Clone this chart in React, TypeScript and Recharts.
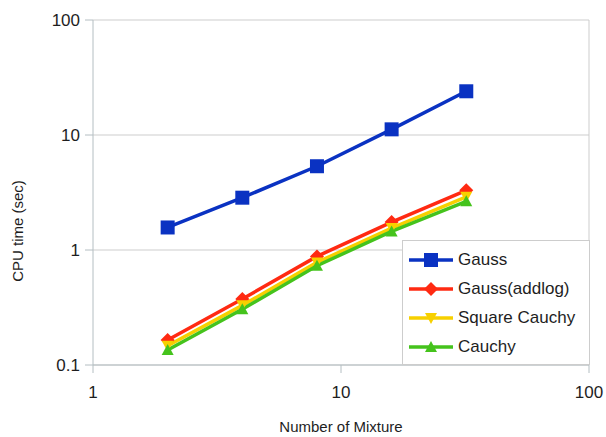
import React from "react";
import { LineChart, Line, XAxis, YAxis, CartesianGrid, ReferenceLine, Label } from "recharts";

const mixtures = [2, 4, 8, 16, 32];
const gaussTimes = [1.57, 2.85, 5.35, 11.2, 24];
const addlogTimes = [0.165, 0.375, 0.88, 1.75, 3.3];
const squareCauchyTimes = [0.147, 0.33, 0.78, 1.55, 2.9];
const cauchyTimes = [0.135, 0.305, 0.73, 1.45, 2.65];
const xTicks = [1, 10, 100];
const yTicks = [0.1, 1, 10, 100];

type Shape = "square" | "diamond" | "down" | "up";

const series: { key: string; name: string; color: string; shape: Shape }[] = [
    { key: "gauss", name: "Gauss", color: "#0a32c2", shape: "square" },
    { key: "addlog", name: "Gauss(addlog)", color: "#ff2a12", shape: "diamond" },
    { key: "square", name: "Square Cauchy", color: "#f7d000", shape: "down" },
    { key: "cauchy", name: "Cauchy", color: "#45c31c", shape: "up" },
];

const data = mixtures.map((x, i) => ({
    x,
    gauss: gaussTimes[i],
    addlog: addlogTimes[i],
    square: squareCauchyTimes[i],
    cauchy: cauchyTimes[i],
}));

const FONT = "'Liberation Sans', Arial, sans-serif";
const GRID = "#cdcdcd";
const AXIS = "#b4bec2";

const marker = (shape: Shape, color: string, cx: number, cy: number, key?: string) => {
    if (shape === "square") return <rect key={key} x={cx - 7} y={cy - 7} width={14} height={14} fill={color} />;
    if (shape === "diamond")
        return <polygon key={key} points={`${cx},${cy - 7} ${cx + 7},${cy} ${cx},${cy + 7} ${cx - 7},${cy}`} fill={color} />;
    if (shape === "down")
        return <polygon key={key} points={`${cx - 6},${cy - 5} ${cx + 6},${cy - 5} ${cx},${cy + 6}`} fill={color} />;
    return <polygon key={key} points={`${cx - 6},${cy + 5} ${cx + 6},${cy + 5} ${cx},${cy - 6}`} fill={color} />;
};

const tickStyle = { fontSize: 17, fill: "#1e1e1e", fontFamily: FONT };

export default function App() {
    return (
        <div style={{ position: "absolute", left: 0, top: 0, width: 606, height: 437, background: "#fff", fontFamily: FONT }}>
            <LineChart width={606} height={437} data={data} margin={{ top: 20, right: 17, bottom: 0, left: 0 }}>
                <CartesianGrid horizontal vertical={false} stroke={GRID} />
                <XAxis
                    dataKey="x"
                    type="number"
                    scale="log"
                    domain={[1, 100]}
                    ticks={xTicks}
                    allowDataOverflow
                    height={72}
                    tickSize={8}
                    tickMargin={13}
                    stroke={AXIS}
                    tick={tickStyle}
                >
                    <Label
                        value="Number of Mixture"
                        position="insideBottom"
                        offset={5}
                        style={{ fontSize: 15, fill: "#1e1e1e", fontFamily: FONT }}
                    />
                </XAxis>
                <YAxis
                    type="number"
                    scale="log"
                    domain={[0.1, 100]}
                    ticks={yTicks}
                    allowDataOverflow
                    width={93}
                    tickSize={8}
                    tickMargin={5}
                    stroke={AXIS}
                    tick={tickStyle}
                    tickFormatter={(v: number) => String(v)}
                >
                    <Label
                        content={() => (
                            <text
                                x={19}
                                y={231}
                                transform="rotate(-90 19 231)"
                                textAnchor="middle"
                                dominantBaseline="middle"
                                style={{ fontSize: 15, fill: "#1e1e1e", fontFamily: FONT }}
                            >
                                CPU time (sec)
                            </text>
                        )}
                    />
                </YAxis>
                <ReferenceLine x={100} stroke={GRID} />
                {series.map(s => (
                    <Line
                        key={s.key}
                        dataKey={s.key}
                        name={s.name}
                        stroke={s.color}
                        strokeWidth={3.5}
                        isAnimationActive={false}
                        dot={(p: any) => marker(s.shape, s.color, p.cx, p.cy, `${s.key}-${p.index}`)}
                        activeDot={false}
                    />
                ))}
            </LineChart>
            <div
                style={{
                    position: "absolute",
                    left: 402,
                    top: 240,
                    width: 188,
                    height: 125,
                    border: `1px solid ${GRID}`,
                    background: "#fff",
                    paddingTop: 4,
                    boxSizing: "border-box",
                }}
            >
                {series.map(s => (
                    <div key={s.key} style={{ display: "flex", alignItems: "center", height: 29 }}>
                        <svg width={44} height={20} style={{ marginLeft: 6, marginRight: 5 }}>
                            <line x1={0} y1={10} x2={44} y2={10} stroke={s.color} strokeWidth={3.5} />
                            {marker(s.shape, s.color, 22, 10)}
                        </svg>
                        <span style={{ fontSize: 17, color: "#1e1e1e", whiteSpace: "nowrap" }}>{s.name}</span>
                    </div>
                ))}
            </div>
        </div>
    );
}
